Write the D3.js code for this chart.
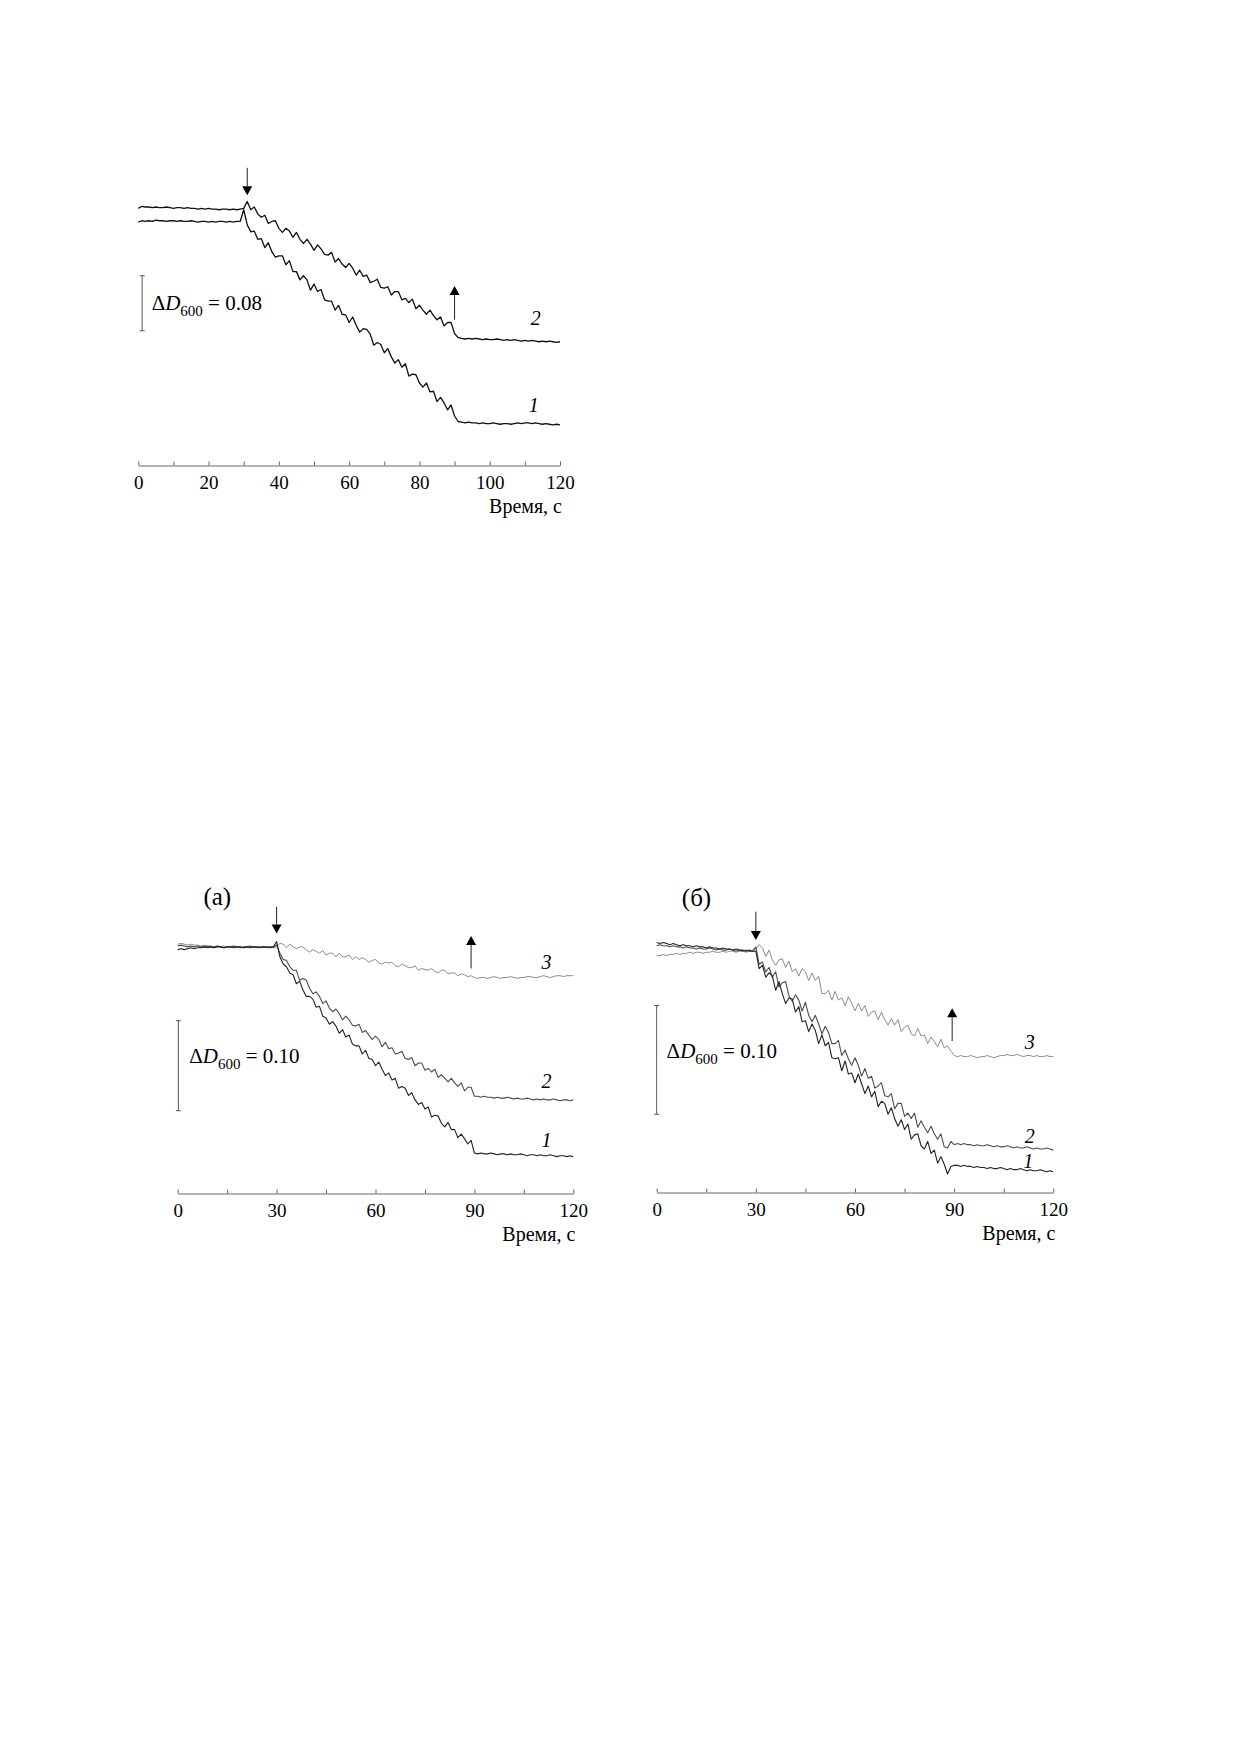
<!DOCTYPE html>
<html>
<head>
<meta charset="utf-8">
<script src="https://cdn.jsdelivr.net/npm/d3@7"></script>
<style>
  body { margin: 0; background: #fff; }
  svg { display: block; font-family: "Liberation Serif", "DejaVu Serif", serif; }
  .axis path, .axis line { stroke: #666; }
</style>
</head>
<body>
<svg id="page" width="1240" height="1754"></svg>
<script>
// time, s (one reading per second)
const seconds = d3.range(0, 121);

// values in units of 10^-3 of D600

// upper figure
const top1 = [354,356,355,356,355,357,356,356,355,356,356,355,356,355,355,356,355,354,355,355,354,355,354,355,355,354,355,354,355,355,
  372,350,340,341,329,
  330,317,324,311,303,305,305,292,298,282,
  282,270,276,270,255,264,253,256,241,239,
  239,226,233,220,219,208,216,204,194,199,
  198,191,175,179,176,164,170,158,149,154,
  143,148,130,133,132,120,114,120,107,108,
  93,99,91,81,88,
  72,64,63,62,63,62,62,61,62,61,61,62,61,60,61,61,60,61,62,61,62,62,61,62,61,60,61,60,59,60,59];
const top2 = [374,377,376,376,375,376,375,375,376,375,374,375,375,374,375,374,374,373,374,373,374,373,373,372,373,373,372,373,372,373,
  374,384,372,376,366,
  361,364,352,355,356,345,339,345,341,332,
  339,329,323,329,322,313,321,315,307,306,
  310,296,301,293,288,294,287,277,284,275,
  277,266,268,271,259,258,260,248,253,253,
  241,243,237,242,228,233,226,220,226,218,
  212,216,203,208,208,
  192,186,185,184,185,184,185,184,183,184,183,183,184,183,182,183,182,183,182,181,182,181,182,181,180,181,180,181,180,179,180];

// panel (а)
const a1 = [271,272,271,272,273,272,273,273,274,273,274,273,274,274,273,274,274,273,274,274,273,274,273,274,274,273,274,274,273,274,
  280,263,255,252,245,
  243,233,236,226,219,219,216,207,208,197,
  195,188,191,186,178,182,174,176,166,164,
  164,155,159,150,149,142,146,138,131,134,
  126,128,117,119,117,109,112,104,99,101,
  94,96,85,87,86,78,74,79,71,71,
  62,66,61,55,59,
  45,44,45,44,44,45,44,43,44,44,43,44,43,43,44,43,42,43,43,42,43,42,42,43,42,41,42,42,41,42,41];
const a2 = [275,276,275,274,275,274,275,274,274,275,274,274,275,274,273,274,274,275,274,273,274,274,275,274,273,274,274,273,274,274,
  276,267,260,259,252,
  248,248,237,239,237,228,222,224,219,211,
  214,206,202,205,200,193,197,193,187,186,
  188,179,181,176,171,175,171,163,168,161,
  162,155,156,158,150,149,151,142,145,145,
  137,139,135,138,129,132,128,124,128,123,
  119,123,114,118,118,
  108,108,107,108,107,107,106,107,106,106,107,106,105,106,105,105,106,105,104,105,104,105,104,104,105,104,103,104,104,103,104];
const a3 = [277,278,277,276,277,276,276,275,276,275,275,274,275,274,275,274,274,275,274,274,273,274,274,273,274,274,273,274,274,273,
  274,278,277,273,277,
  274,272,274,274,271,268,271,269,267,270,
  265,267,267,263,267,263,263,265,260,263,
  260,262,260,257,259,260,256,255,257,256,
  257,253,252,255,253,251,251,253,248,250,
  249,248,250,247,245,248,248,244,245,245,
  242,244,243,241,242,
  240,239,240,240,239,240,241,240,239,240,240,241,240,239,240,240,241,241,240,240,241,242,241,240,241,242,242,241,242,242,242];

// panel (б)
const b1 = [230,229,230,229,228,229,228,227,228,227,227,226,227,226,226,225,226,225,225,224,225,224,224,223,224,223,223,222,223,222,
  222,206,209,198,202,
  199,186,194,183,174,179,178,166,171,157,
  158,148,155,149,137,145,135,138,124,123,
  124,112,121,109,110,101,109,100,91,98,
  88,93,79,84,82,72,78,68,61,67,
  58,63,49,53,54,43,40,47,36,39,
  27,33,26,17,24,
  25,25,24,25,24,24,23,24,23,23,22,23,22,22,23,22,21,22,21,21,22,21,20,21,20,20,21,20,19,20,19];
const b2 = [227,228,227,227,226,227,226,226,225,226,225,225,224,225,224,224,225,224,223,224,223,223,224,223,222,223,222,223,222,222,
  226,210,212,203,207,
  198,203,189,193,194,181,176,182,177,167,
  175,163,157,163,155,146,153,147,137,137,
  140,126,131,123,117,124,117,107,114,105,
  107,96,98,101,89,88,91,77,82,82,
  70,73,68,73,60,66,60,55,61,54,
  49,54,42,41,47,
  44,45,44,45,44,44,43,44,43,43,44,43,42,43,42,42,43,42,41,42,41,41,42,41,40,41,40,40,41,40,39];
const b3 = [218,218,219,218,219,219,220,219,220,220,221,220,221,221,220,221,221,222,221,221,222,221,222,222,221,222,222,221,222,222,
  224,228,225,217,223,
  214,209,214,215,207,213,203,206,199,206,
  203,195,202,195,199,183,183,186,177,185,
  177,179,172,180,174,167,174,167,172,162,
  166,167,159,166,159,154,160,154,159,148,
  152,154,146,144,151,144,145,137,143,139,
  134,141,133,135,130,
  126,125,126,125,125,126,125,124,125,125,126,125,124,125,126,126,127,126,126,127,126,125,126,126,125,126,125,125,126,125,125];

const panels = [
  {
    x0: 138.3, x1: 560, axisY: 465.5, pxPerUnit: 0.6875, tickStep: 10, labelStep: 20,
    series: [{values: top1, color: '#111', width: 1.3}, {values: top2, color: '#111', width: 1.3}],
    curveLabels: [{text: '2', t: 113.1, v: 204}, {text: '1', t: 112.5, v: 78}],
    down: {t: 31, from: 433, to: 393}, up: {t: 90, from: 212, to: 261},
    bar: {t: 1.1, from: 196, to: 276, label: '0.08', lt: 3.8, lv: 226},
    panelLabel: null,
  },
  {
    x0: 177.7, x1: 573.3, axisY: 1193.5, pxPerUnit: 0.9, tickStep: 15, labelStep: 30,
    series: [{values: a3, color: '#8c8c8c', width: 1}, {values: a2, color: '#4d4d4d', width: 1.1},
             {values: a1, color: '#222', width: 1.1}],
    curveLabels: [{text: '3', t: 111.9, v: 250}, {text: '2', t: 111.9, v: 117}, {text: '1', t: 111.9, v: 52}],
    down: {t: 30, from: 318.7, to: 289}, up: {t: 89, from: 250, to: 286},
    bar: {t: 0.2, from: 92, to: 192, label: '0.10', lt: 3.5, lv: 144.7},
    panelLabel: {text: '(а)', t: 7.8, v: 320.6},
  },
  {
    x0: 656.7, x1: 1053.3, axisY: 1192.5, pxPerUnit: 1.087, tickStep: 15, labelStep: 30,
    series: [{values: b3, color: '#8c8c8c', width: 1}, {values: b2, color: '#4d4d4d', width: 1.1},
             {values: b1, color: '#222', width: 1.1}],
    curveLabels: [{text: '3', t: 112.9, v: 132}, {text: '2', t: 112.9, v: 45.3}, {text: '1', t: 112.4, v: 22.3}],
    down: {t: 30, from: 258.3, to: 232.3}, up: {t: 89.4, from: 139.4, to: 169.5},
    bar: {t: 0, from: 72, to: 172, label: '0.10', lt: 3.0, lv: 123.5},
    panelLabel: {text: '(б)', t: 7.6, v: 263.6},
  },
];

const svg = d3.select('#page');
svg.append('rect').attr('width', 1240).attr('height', 1754).attr('fill', '#fff');

panels.forEach(drawPanel);

function drawPanel(p) {
  const x = d3.scaleLinear().domain([0, 120]).range([p.x0, p.x1]);
  const y = d3.scaleLinear().domain([0, 100]).range([p.axisY, p.axisY - 100 * p.pxPerUnit]);
  const g = svg.append('g');

  // time axis, ticks pointing up
  const ticks = d3.range(0, 121, p.tickStep);
  g.append('g')
   .attr('class', 'axis')
   .attr('transform', `translate(0,${p.axisY})`)
   .call(d3.axisBottom(x)
     .tickValues(ticks)
     .tickSizeInner(-4)
     .tickSizeOuter(0)
     .tickPadding(10)
     .tickFormat((d) => d % p.labelStep === 0 ? d : ''))
   .attr('font-family', '"Liberation Serif", serif')
   .attr('font-size', 19)
   .selectAll('text').attr('fill', '#000');

  g.append('text')
   .attr('x', x(120) + 2)
   .attr('y', p.axisY + 47)
   .attr('text-anchor', 'end')
   .attr('font-size', 20)
   .text('Время, с');

  // traces
  const line = d3.line().x((d, i) => x(seconds[i])).y((d) => y(d));
  p.series.forEach((s) => {
    g.append('path')
     .datum(s.values)
     .attr('d', line)
     .attr('fill', 'none')
     .attr('stroke', s.color)
     .attr('stroke-width', s.width)
     .attr('stroke-linejoin', 'round');
  });

  p.curveLabels.forEach((l) => {
    g.append('text')
     .attr('x', x(l.t))
     .attr('y', y(l.v))
     .attr('text-anchor', 'middle')
     .attr('font-size', 20)
     .attr('font-style', 'italic')
     .text(l.text);
  });

  drawArrow(g, x(p.down.t), y(p.down.from), y(p.down.to));
  drawArrow(g, x(p.up.t), y(p.up.from), y(p.up.to));

  // scale bar for ΔD600
  const bx = x(p.bar.t);
  g.append('line').attr('x1', bx).attr('x2', bx)
   .attr('y1', y(p.bar.from)).attr('y2', y(p.bar.to)).attr('stroke', '#555');
  [p.bar.from, p.bar.to].forEach((v) => {
    g.append('line').attr('x1', bx - 2.5).attr('x2', bx + 2.5)
     .attr('y1', y(v)).attr('y2', y(v)).attr('stroke', '#555');
  });
  const lab = g.append('text')
               .attr('x', x(p.bar.lt))
               .attr('y', y(p.bar.lv))
               .attr('font-size', 21);
  lab.append('tspan').text('Δ');
  lab.append('tspan').attr('font-style', 'italic').text('D');
  lab.append('tspan').attr('font-size', 15).attr('dy', 6).text('600');
  lab.append('tspan').attr('dy', -6).text(' = ' + p.bar.label);

  if (p.panelLabel) {
    g.append('text')
     .attr('x', x(p.panelLabel.t))
     .attr('y', y(p.panelLabel.v))
     .attr('font-size', 25)
     .text(p.panelLabel.text);
  }
}

// arrow from y0 to tip at y1
function drawArrow(g, ax, y0, y1) {
  const dir = y1 > y0 ? 1 : -1;
  const head = 9;
  g.append('line')
   .attr('x1', ax).attr('x2', ax)
   .attr('y1', y0).attr('y2', y1 - dir * head)
   .attr('stroke', '#222').attr('stroke-width', 1);
  g.append('path')
   .attr('d', `M${ax - 5},${y1 - dir * head}L${ax + 5},${y1 - dir * head}L${ax},${y1}Z`)
   .attr('fill', '#000');
}
</script>
</body>
</html>
